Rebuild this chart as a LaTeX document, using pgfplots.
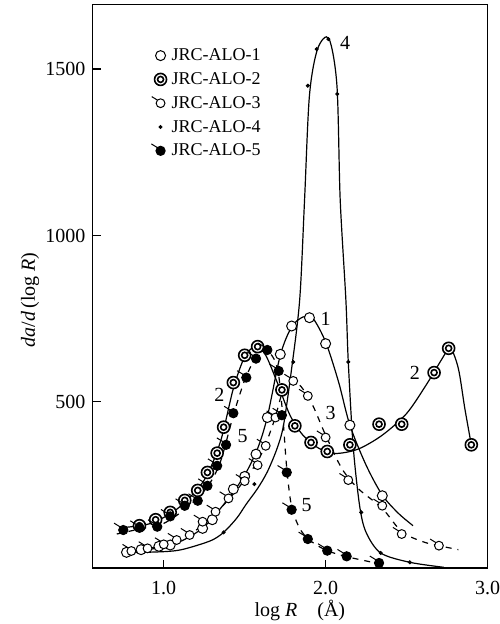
\documentclass[border=0pt]{standalone}
\usepackage{fontspec}
\setmainfont{Liberation Serif}
\usepackage{pgfplots}
\pgfplotsset{compat=1.18}

% double circle, circle with tail, disc with tail
\pgfdeclareplotmark{dcirc}{%
  \pgfpathcircle{\pgfpointorigin}{\pgfplotmarksize}\pgfusepathqfillstroke
  \pgfpathcircle{\pgfpointorigin}{0.5\pgfplotmarksize}\pgfusepathqstroke}
\pgfdeclareplotmark{tcirc}{%
  \pgfpathmoveto{\pgfpoint{-0.7\pgfplotmarksize}{0.7\pgfplotmarksize}}%
  \pgfpathlineto{\pgfpoint{-2\pgfplotmarksize}{1.5\pgfplotmarksize}}\pgfusepathqstroke
  \pgfpathcircle{\pgfpointorigin}{\pgfplotmarksize}\pgfusepathqfillstroke}

\pgfplotsset{markleg/.style={legend image code/.code={%
  \path[draw=none, fill=none] (-3pt,0pt) -- (5.5pt,0pt);
  \draw[##1, only marks] plot coordinates {(0pt,0pt)};}}}

\begin{document}
\begin{tikzpicture}
\useasboundingbox (-46.25pt,-27.85pt) rectangle (203.25pt,284.15pt);
\begin{axis}[
    scale only axis,
    width=197.5pt, height=281.9pt,
    xmin=0.56, xmax=3.0,
    ymin=0, ymax=1694,
    xtick={1,2,3}, xticklabels={1.0,2.0,3.0},
    ytick={500,1000,1500},
    tick pos=left, tick align=inside,
    major tick length=4pt,
    axis line style={line width=0.9pt},
    tick style={line width=0.6pt, black},
    font=\fontsize{10}{12}\selectfont,
    /pgf/number format/assume math mode=true,
    /pgf/number format/1000 sep={},
    xticklabel style={yshift=-3pt},
    xlabel={log \textit{R}\quad(Å)},
    xlabel style={at={(rel axis cs:0.525,-0.074)}, anchor=center},
    ylabel={\textit{da}/\textit{d}\,(log \textit{R})},
    ylabel style={at={(rel axis cs:-0.158,0.476)}, anchor=center},
    legend cell align=left,
    legend style={draw=none, fill=none, inner sep=0pt, row sep=2.9pt,
        at={(rel axis cs:0.148,0.926)}, anchor=north west,
        font=\fontsize{9}{11}\selectfont,
        nodes={inner sep=0pt, text height=7pt, text depth=2pt}},
    clip=false,
]
% JRC-ALO-1
\addplot[forget plot, smooth, line width=0.6pt] coordinates {
(0.77,48) (0.95,60) (1.10,80) (1.25,125) (1.40,210) (1.50,280) (1.58,360)
(1.64,455) (1.72,640) (1.79,725) (1.86,755) (1.92,752) (2.00,680) (2.08,560)
(2.15,430) (2.25,310) (2.35,220) (2.45,165) (2.54,128)};
\addplot[only marks, markleg, mark=*, mark size=2.5pt, line width=0.5pt, mark options={fill=white, draw=black}] coordinates {
(0.77,48) (0.86,56) (0.97,66) (1.04,70) (1.24,120) (1.30,146) (1.43,238) (1.50,276)
(1.57,343) (1.64,453) (1.72,643) (1.79,728) (1.90,753) (2.00,675) (2.15,430) (2.35,218)};
\addlegendentry{JRC-ALO-1}
% JRC-ALO-2
\addplot[forget plot, smooth, line width=0.6pt] coordinates {
(0.74,122) (0.85,128) (0.95,140) (1.10,185) (1.25,265) (1.35,380) (1.43,540)
(1.50,635) (1.57,668) (1.63,640) (1.70,560) (1.78,460) (1.86,400) (1.96,360)
(2.06,345) (2.20,358) (2.35,400) (2.50,465) (2.62,550) (2.72,630) (2.77,662)
(2.82,600) (2.86,480) (2.90,371)};
\addplot[only marks, markleg, mark=dcirc, mark size=3pt, line width=0.8pt, mark options={fill=white}] coordinates {
(0.85,128) (0.95,146) (1.04,168) (1.13,204) (1.21,234) (1.27,288) (1.33,346)
(1.37,424) (1.43,558) (1.50,640) (1.58,666) (1.73,536) (1.81,428) (1.91,378)
(2.01,351) (2.15,371) (2.33,433) (2.47,433) (2.67,588) (2.76,661) (2.90,371)};
\addlegendentry{JRC-ALO-2}
% JRC-ALO-3
\addplot[forget plot, smooth, dashed, line width=0.6pt] coordinates {
(0.78,50) (1.00,70) (1.20,115) (1.35,180) (1.50,265) (1.60,340) (1.68,440)
(1.74,540) (1.79,565) (1.85,545) (1.92,490) (2.00,400) (2.10,300) (2.20,240)
(2.35,180) (2.47,110) (2.60,80) (2.70,68) (2.82,56)};
\addplot[only marks, markleg, mark=tcirc, mark size=2.2pt, line width=0.5pt, mark options={fill=white}] coordinates {
(0.80,52) (0.90,60) (1.00,72) (1.08,85) (1.16,100) (1.24,140) (1.32,170) (1.40,210)
(1.50,262) (1.58,310) (1.63,368) (1.69,453) (1.80,563) (1.89,518) (2.00,393)
(2.14,265) (2.35,188) (2.47,103) (2.70,68)};
\addlegendentry{JRC-ALO-3}
% JRC-ALO-4
\addplot[forget plot, smooth, line width=0.6pt] coordinates {
(0.75,46) (1.00,50) (1.10,55) (1.20,68) (1.30,85) (1.37,108) (1.45,150) (1.51,193)
(1.58,240) (1.64,290) (1.70,360) (1.74,430) (1.79,600) (1.84,808) (1.87,1108)
(1.90,1420) (1.95,1560) (2.02,1592) (2.07,1450) (2.09,1108) (2.125,808) (2.14,620)
(2.17,368) (2.21,188) (2.25,108) (2.34,46) (2.52,18) (2.73,3)};
\addplot[only marks, markleg, mark=*, mark size=0.8pt] coordinates {
(1.37,108) (1.56,253) (1.80,620) (1.89,1450) (1.945,1560) (2.017,1590) (2.072,1425)
(2.14,620) (2.22,168) (2.34,46) (2.52,18)};
\addlegendentry{JRC-ALO-4}
% JRC-ALO-5
\addplot[forget plot, smooth, dashed, line width=0.6pt] coordinates {
(0.71,103) (0.85,118) (1.00,135) (1.15,185) (1.27,245) (1.35,320) (1.43,460)
(1.50,565) (1.57,635) (1.63,655) (1.68,630) (1.71,580) (1.735,460) (1.76,300)
(1.79,185) (1.84,120) (1.90,85) (2.00,55) (2.13,35) (2.33,14)};
\addplot[only marks, markleg, mark=tcirc, mark size=2.3pt, line width=0.5pt, mark options={fill=black}] coordinates {
(0.75,115) (0.85,122) (0.96,125) (1.04,156) (1.13,188) (1.21,203) (1.27,248)
(1.33,308) (1.385,371) (1.43,466) (1.51,573) (1.57,630) (1.64,656) (1.71,593)
(1.73,460) (1.76,288) (1.79,176) (1.89,88) (2.01,53) (2.13,36) (2.33,16)};
\addlegendentry{JRC-ALO-5}
% curve numbers
\node at (axis cs:2.12,1578) {4};
\node at (axis cs:2.00,748) {1};
\node at (axis cs:1.343,520) {2};
\node at (axis cs:1.488,398) {5};
\node at (axis cs:2.031,468) {3};
\node at (axis cs:1.883,190) {5};
\node at (axis cs:2.552,588) {2};
\end{axis}
\end{tikzpicture}
\end{document}
